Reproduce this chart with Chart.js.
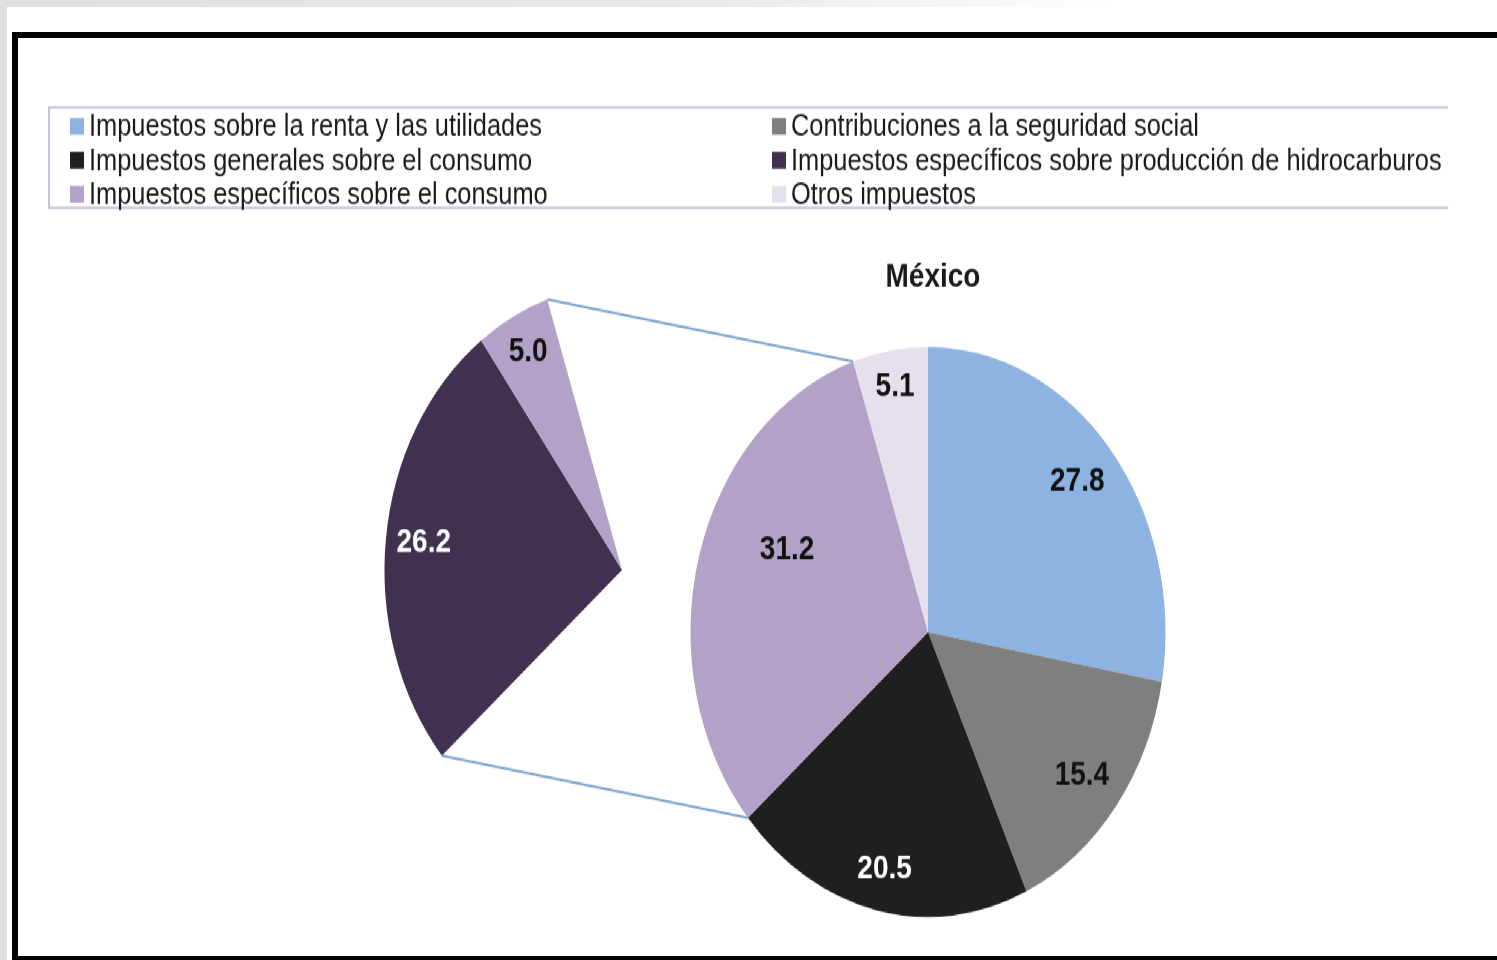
<!DOCTYPE html>
<html lang="es">
<head>
<meta charset="utf-8">
<title>México</title>
<script src="https://cdn.jsdelivr.net/npm/chart.js@4.4.1/dist/chart.umd.min.js"></script>
<style>
  html, body { margin: 0; padding: 0; background: #fff; }
  body { width: 1497px; height: 960px; position: relative; overflow: hidden; }
  #topband { position: absolute; left: 0; top: 0; width: 1497px; height: 7px;
    background: linear-gradient(to right, #e0e0e0 0%, #e8e8e8 45%, #fff 75%); }
  #sideband { position: absolute; left: 0; top: 0; width: 7px; height: 960px; background: #e0e0e0; }
  #frame { position: absolute; left: 12px; top: 32px; width: 1500px; height: 930px;
    border: 6px solid #000; box-sizing: border-box; }
  /* everything is drawn at 800px high and stretched to 960 */
  #stage { position: absolute; left: 0; top: 0; width: 1497px; height: 800px;
    transform: scaleY(1.2); transform-origin: 0 0; }
  #stage canvas { position: absolute; left: 0; top: 0; }
</style>
</head>
<body>
<div id="topband"></div>
<div id="sideband"></div>
<div id="frame"></div>
<div id="stage">
  <canvas id="pieMain" width="1497" height="800"></canvas>
  <canvas id="pieDetail" width="1497" height="800"></canvas>
</div>
<script>
const chartTitle = 'México';
const categories = [
  'Impuestos sobre la renta y las utilidades',
  'Contribuciones a la seguridad social',
  'Impuestos generales sobre el consumo',
  'Impuestos específicos sobre producción de hidrocarburos',
  'Impuestos específicos sobre el consumo',
  'Otros impuestos'
];
const shares = [27.8, 15.4, 20.5, 26.2, 5.0, 5.1];
const colors = ['#8DB3E2', '#7F7F7F', '#1F1F1F', '#403151', '#B3A2C7', '#E6E0EC'];
const detailIdx = [3, 4]; // slices pulled out into the side sector

const FONT = "'Liberation Sans', Arial, sans-serif";

// main pie: the detail slices are merged into one
const mainValues = [], mainColors = [], mainLabels = [];
shares.forEach((v, i) => {
  if (i === detailIdx[0]) {
    const sum = detailIdx.reduce((s, j) => s + shares[j], 0);
    mainValues.push(Math.round(sum * 10) / 10);
    mainColors.push(colors[detailIdx[detailIdx.length - 1]]);
    mainLabels.push('Impuestos específicos');
  } else if (!detailIdx.includes(i)) {
    mainValues.push(v);
    mainColors.push(colors[i]);
    mainLabels.push(categories[i]);
  }
});
const mergedIdx = detailIdx[0];

// value labels inside the slices
const sliceLabels = {
  id: 'sliceLabels',
  afterDatasetsDraw(chart, args, opts) {
    const ctx = chart.ctx;
    const values = chart.data.datasets[0].data;
    ctx.save();
    ctx.font = opts.font;
    ctx.textAlign = 'center';
    ctx.textBaseline = 'middle';
    chart.getDatasetMeta(0).data.forEach((arc, i) => {
      if (!opts.colors[i]) return;
      const p = arc.getProps(['x', 'y', 'startAngle', 'endAngle', 'outerRadius']);
      const mid = (p.startAngle + p.endAngle) / 2 + (opts.nudge[i] || 0) * Math.PI / 180;
      const r = p.outerRadius * opts.radius[i];
      ctx.fillStyle = opts.colors[i];
      ctx.fillText(values[i].toFixed(1), p.x + Math.cos(mid) * r, p.y + Math.sin(mid) * r);
    });
    ctx.restore();
  }
};

// two-column legend in a box with open right side
const boxLegend = {
  id: 'boxLegend',
  afterDraw(chart, args, o) {
    const ctx = chart.ctx;
    ctx.save();
    ctx.strokeStyle = o.borderColor;
    ctx.lineWidth = 2;
    ctx.beginPath();
    ctx.moveTo(o.right, o.top);
    ctx.lineTo(o.left, o.top);
    ctx.lineTo(o.left, o.bottom);
    ctx.lineTo(o.right, o.bottom);
    ctx.stroke();
    ctx.font = o.font;
    ctx.textAlign = 'left';
    ctx.textBaseline = 'alphabetic';
    categories.forEach((name, i) => {
      const x = o.colX[i % 2];
      const y = o.firstBaseline + Math.floor(i / 2) * o.rowGap;
      ctx.fillStyle = colors[i];
      ctx.fillRect(x, y - 15, 14, 14);
      ctx.fillStyle = o.color;
      ctx.fillText(name, x + 19, y);
    });
    ctx.restore();
  }
};

// title drawn a few px right of the pie centre
const titleText = {
  id: 'titleText',
  afterDraw(chart, args, o) {
    const ctx = chart.ctx;
    const area = chart.chartArea;
    ctx.save();
    ctx.font = o.font;
    ctx.fillStyle = o.color;
    ctx.textAlign = 'center';
    ctx.textBaseline = 'middle';
    ctx.fillText(chartTitle, (area.left + area.right) / 2 + o.dx, area.top - o.gap);
    ctx.restore();
  }
};

const mainChart = new Chart(document.getElementById('pieMain'), {
  type: 'pie',
  data: {
    labels: mainLabels,
    datasets: [{ data: mainValues, backgroundColor: mainColors, borderWidth: 0 }]
  },
  options: {
    responsive: false,
    animation: false,
    events: [],
    layout: { padding: { left: 690.5, right: 331.5, top: 289.2, bottom: 35.8 } },
    plugins: {
      legend: { display: false },
      tooltip: { enabled: false },
      titleText: { font: 'bold 28px ' + FONT, color: '#1a1a1a', dx: 5, gap: 57.5 },
      sliceLabels: {
        font: 'bold 28px ' + FONT,
        colors: ['#111', '#111', '#fff', '#111', '#111'],
        radius: [0.82, 0.82, 0.85, 0.66, 0.87],
        nudge: [0, 0, 0, 10.5, 0]
      },
      boxLegend: {
        left: 49, right: 1448, top: 89.6, bottom: 173.3,
        borderColor: '#CCC1DA',
        font: '25.4px ' + FONT,
        color: '#1a1a1a',
        colX: [70, 772],
        firstBaseline: 113.3,
        rowGap: 28.3
      }
    }
  },
  plugins: [sliceLabels, boxLegend, titleText]
});

// lines joining the merged slice to the side sector
const connectors = {
  id: 'connectors',
  afterDatasetsDraw(chart, args, o) {
    const props = ['x', 'y', 'startAngle', 'endAngle', 'outerRadius'];
    const m = mainChart.getDatasetMeta(0).data[mergedIdx].getProps(props);
    const arcs = chart.getDatasetMeta(0).data;
    const a = arcs[detailIdx[0]].getProps(props);
    const b = arcs[detailIdx[detailIdx.length - 1]].getProps(props);
    const pt = (p, ang) => [p.x + Math.cos(ang) * p.outerRadius, p.y + Math.sin(ang) * p.outerRadius];
    const ctx = chart.ctx;
    ctx.save();
    ctx.strokeStyle = o.color;
    ctx.lineWidth = o.width;
    [[pt(a, a.startAngle), pt(m, m.startAngle)], [pt(b, b.endAngle), pt(m, m.endAngle)]].forEach(([s, e]) => {
      ctx.beginPath();
      ctx.moveTo(s[0], s[1]);
      ctx.lineTo(e[0], e[1]);
      ctx.stroke();
    });
    ctx.restore();
  }
};

new Chart(document.getElementById('pieDetail'), {
  type: 'pie',
  data: {
    labels: categories,
    datasets: [{
      data: shares,
      backgroundColor: colors.map((c, i) => detailIdx.includes(i) ? c : 'rgba(0,0,0,0)'),
      borderWidth: 0
    }]
  },
  options: {
    responsive: false,
    animation: false,
    events: [],
    layout: { padding: { left: 384.5, right: 637.5, top: 237.5, bottom: 87.5 } },
    plugins: {
      legend: { display: false },
      tooltip: { enabled: false },
      sliceLabels: {
        font: 'bold 28px ' + FONT,
        colors: [null, null, null, '#fff', '#111', null],
        radius: [0, 0, 0, 0.84, 0.86, 0],
        nudge: [0, 0, 0, 0, 0, 0]
      },
      connectors: { color: '#7FA2CF', width: 2 }
    }
  },
  plugins: [sliceLabels, connectors]
});
</script>
</body>
</html>
